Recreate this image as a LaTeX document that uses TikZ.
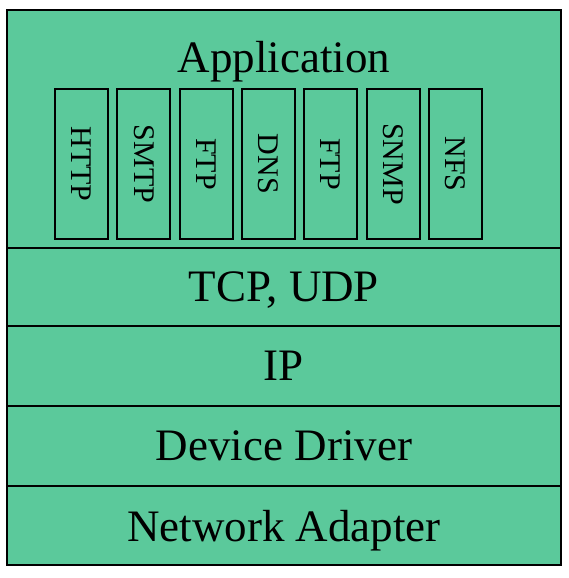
\documentclass[tikz,border=0pt]{standalone}
\usepackage{fontspec}
\setmainfont{Liberation Serif}
\usetikzlibrary{positioning}
\definecolor{stackgreen}{HTML}{5BC99B}

\begin{document}
\begin{tikzpicture}[
    x=1pt, y=1pt,
    layer/.style={
        rectangle, draw, fill=stackgreen, line width=2pt, outer sep=0pt,
        minimum width=554pt, inner sep=0pt, text depth=0pt,
        font=\fontsize{45}{50}\selectfont
    },
    proto/.style={
        rectangle, draw, line width=2pt, outer sep=0pt, inner sep=0pt,
        minimum width=53pt, minimum height=150pt,
        font=\fontsize{30}{34}\selectfont
    }
]
\useasboundingbox (0,0) rectangle (568,-578);

% Layers
\node[layer, minimum height=238pt] (app) at (284,-129) {};
\node[layer, minimum height=78pt, below=0pt of app] (tcp) {TCP, UDP};
\node[layer, minimum height=80pt, below=0pt of tcp] (ip) {IP};
\node[layer, minimum height=80pt, below=0pt of ip] (drv) {Device Driver};
\node[layer, minimum height=79pt, below=0pt of drv] (nic) {Network Adapter};

% Application title
\node[font=\fontsize{45}{50}\selectfont, anchor=base] (apptitle) at (284,-73) {Application};

% Protocols
\node[proto] (http) at (81.5,-164) {\rotatebox{-90}{HTTP}};
\node[proto, right=9.3pt of http] (smtp) {\rotatebox{-90}{SMTP}};
\node[proto, right=9.3pt of smtp] (ftpa) {\rotatebox{-90}{FTP}};
\node[proto, right=9.3pt of ftpa] (dns) {\rotatebox{-90}{DNS}};
\node[proto, right=9.3pt of dns] (ftpb) {\rotatebox{-90}{FTP}};
\node[proto, right=9.3pt of ftpb] (snmp) {\rotatebox{-90}{SNMP}};
\node[proto, right=9.3pt of snmp] (nfs) {\rotatebox{-90}{NFS}};

\end{tikzpicture}
\end{document}
